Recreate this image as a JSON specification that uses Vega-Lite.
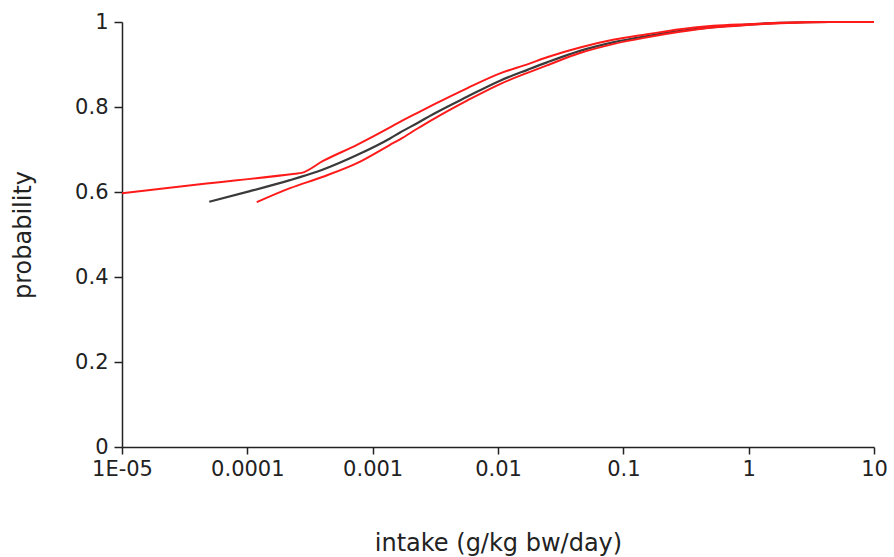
{
  "$schema": "https://vega.github.io/schema/vega-lite/v6.json",
  "autosize": "none",
  "padding": {"left": 122, "top": 22, "right": 20, "bottom": 110},
  "width": 752,
  "height": 425,
  "background": "white",
  "config": {
    "view": {"stroke": null},
    "font": "DejaVu Sans"
  },
  "data": {
    "values": [
      {"series": "black", "x": 0.0000497, "p": 0.577},
      {"series": "black", "x": 0.000105, "p": 0.602},
      {"series": "black", "x": 0.000219, "p": 0.628},
      {"series": "black", "x": 0.000263, "p": 0.635},
      {"series": "black", "x": 0.000402, "p": 0.653},
      {"series": "black", "x": 0.00075, "p": 0.687},
      {"series": "black", "x": 0.001375, "p": 0.726},
      {"series": "black", "x": 0.001653, "p": 0.740},
      {"series": "black", "x": 0.0023, "p": 0.763},
      {"series": "black", "x": 0.00303, "p": 0.783},
      {"series": "black", "x": 0.00566, "p": 0.824},
      {"series": "black", "x": 0.01038, "p": 0.862},
      {"series": "black", "x": 0.01736, "p": 0.888},
      {"series": "black", "x": 0.0246, "p": 0.905},
      {"series": "black", "x": 0.0451, "p": 0.932},
      {"series": "black", "x": 0.0827, "p": 0.952},
      {"series": "black", "x": 0.1545, "p": 0.967},
      {"series": "black", "x": 0.2833, "p": 0.979},
      {"series": "black", "x": 0.5195, "p": 0.988},
      {"series": "black", "x": 0.97, "p": 0.994},
      {"series": "black", "x": 1.779, "p": 0.998},
      {"series": "black", "x": 4.46, "p": 1.0},
      {"series": "black", "x": 10, "p": 1.0},
      {"series": "upper", "x": 0.00001, "p": 0.597},
      {"series": "upper", "x": 0.0000419, "p": 0.618},
      {"series": "upper", "x": 0.00024, "p": 0.643},
      {"series": "upper", "x": 0.0002715, "p": 0.645},
      {"series": "upper", "x": 0.000402, "p": 0.673},
      {"series": "upper", "x": 0.00075, "p": 0.711},
      {"series": "upper", "x": 0.001375, "p": 0.752},
      {"series": "upper", "x": 0.001653, "p": 0.765},
      {"series": "upper", "x": 0.0023, "p": 0.787},
      {"series": "upper", "x": 0.00303, "p": 0.805},
      {"series": "upper", "x": 0.00566, "p": 0.844},
      {"series": "upper", "x": 0.01038, "p": 0.879},
      {"series": "upper", "x": 0.01736, "p": 0.901},
      {"series": "upper", "x": 0.0246, "p": 0.917},
      {"series": "upper", "x": 0.0451, "p": 0.940},
      {"series": "upper", "x": 0.0827, "p": 0.958},
      {"series": "upper", "x": 0.1545, "p": 0.971},
      {"series": "upper", "x": 0.2833, "p": 0.983},
      {"series": "upper", "x": 0.5195, "p": 0.991},
      {"series": "upper", "x": 0.97, "p": 0.995},
      {"series": "upper", "x": 1.779, "p": 0.998},
      {"series": "upper", "x": 4.46, "p": 1.0},
      {"series": "upper", "x": 10, "p": 1.0},
      {"series": "lower", "x": 0.0001188, "p": 0.576},
      {"series": "lower", "x": 0.000219, "p": 0.609},
      {"series": "lower", "x": 0.000402, "p": 0.636},
      {"series": "lower", "x": 0.00075, "p": 0.668},
      {"series": "lower", "x": 0.001375, "p": 0.711},
      {"series": "lower", "x": 0.001653, "p": 0.724},
      {"series": "lower", "x": 0.0023, "p": 0.750},
      {"series": "lower", "x": 0.00303, "p": 0.771},
      {"series": "lower", "x": 0.00566, "p": 0.815},
      {"series": "lower", "x": 0.01038, "p": 0.854},
      {"series": "lower", "x": 0.01736, "p": 0.881},
      {"series": "lower", "x": 0.0246, "p": 0.898},
      {"series": "lower", "x": 0.0451, "p": 0.927},
      {"series": "lower", "x": 0.0827, "p": 0.948},
      {"series": "lower", "x": 0.1545, "p": 0.964},
      {"series": "lower", "x": 0.2833, "p": 0.977},
      {"series": "lower", "x": 0.5195, "p": 0.987},
      {"series": "lower", "x": 0.97, "p": 0.993},
      {"series": "lower", "x": 1.779, "p": 0.997},
      {"series": "lower", "x": 4.46, "p": 1.0},
      {"series": "lower", "x": 10, "p": 1.0}
    ]
  },
  "encoding": {
    "x": {
      "field": "x",
      "type": "quantitative",
      "scale": {"type": "log", "domain": [0.00001, 10], "nice": false},
      "axis": {
        "title": "intake (g/kg bw/day)",
        "values": [0.00001, 0.0001, 0.001, 0.01, 0.1, 1, 10],
        "labelExpr": "datum.value < 0.00005 ? '1E-05' : format(datum.value, '~g')",
        "grid": false,
        "domainColor": "#222222",
        "domainWidth": 1.5,
        "tickColor": "#222222",
        "tickWidth": 1.5,
        "tickSize": 7,
        "labelPadding": 4,
        "labelFont": "DejaVu Sans",
        "labelFontSize": 21,
        "labelColor": "#222222",
        "labelFlush": false,
        "labelOverlap": false,
        "titleFont": "DejaVu Sans",
        "titleFontSize": 24,
        "titleFontWeight": "normal",
        "titleColor": "#222222",
        "titleBaseline": "alphabetic",
        "titleY": 103
      }
    },
    "y": {
      "field": "p",
      "type": "quantitative",
      "scale": {"domain": [0, 1], "nice": false},
      "axis": {
        "title": "probability",
        "values": [0, 0.2, 0.4, 0.6, 0.8, 1],
        "format": "~g",
        "grid": false,
        "domainColor": "#222222",
        "domainWidth": 1.5,
        "tickColor": "#222222",
        "tickWidth": 1.5,
        "tickSize": 8,
        "labelPadding": 6,
        "labelFont": "DejaVu Sans",
        "labelFontSize": 21,
        "labelColor": "#222222",
        "labelFlush": false,
        "labelOverlap": false,
        "titleFont": "DejaVu Sans",
        "titleFontSize": 24,
        "titleFontWeight": "normal",
        "titleColor": "#222222",
        "titleBaseline": "alphabetic",
        "titleX": -92
      }
    }
  },
  "layer": [
    {
      "transform": [{"filter": "datum.series == 'black'"}],
      "mark": {"type": "line", "color": "#3a3a3a", "strokeWidth": 2.2, "interpolate": "monotone"}
    },
    {
      "transform": [{"filter": "datum.series != 'black'"}],
      "mark": {"type": "line", "color": "#ff1a1a", "strokeWidth": 2, "interpolate": "monotone"},
      "encoding": {"detail": {"field": "series"}}
    }
  ]
}
